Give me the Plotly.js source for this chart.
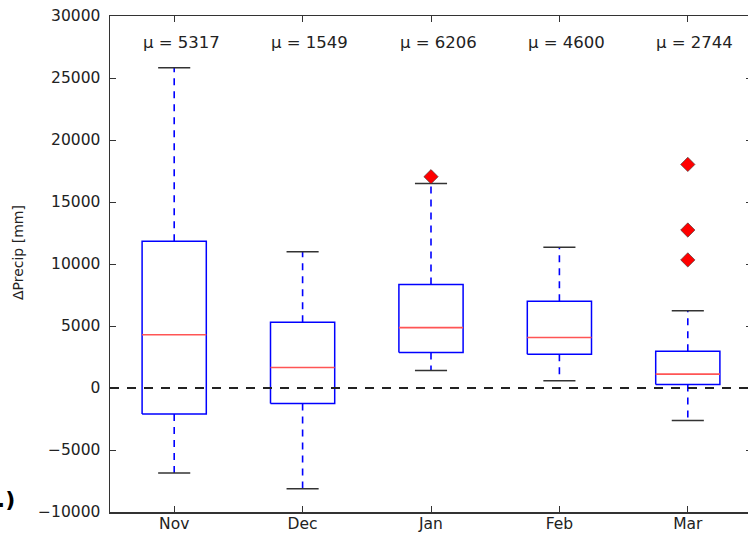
<!DOCTYPE html>
<html>
<head>
<meta charset="utf-8">
<script src="https://cdn.plot.ly/plotly-3.0.1.min.js"></script>
<style>
html,body{margin:0;padding:0;overflow:hidden;background:#fff;width:748px;height:535px;}
#chart{width:760px;height:535px;}
</style>
</head>
<body>
<div id="chart"></div>
<script>
// ---- data ----
var categories = ['Nov', 'Dec', 'Jan', 'Feb', 'Mar'];
var positions = [1, 2, 3, 4, 5];
var q1 = [-2100, -1250, 2860, 2730, 280];
var medians = [4290, 1650, 4870, 4070, 1120];
var q3 = [11830, 5310, 8340, 7000, 2970];
var lowCaps = [-6860, -8120, 1410, 580, -2620];
var highCaps = [25820, 10990, 16500, 11350, 6220];
var means = [5317, 1549, 6206, 4600, 2744];
var outliers = [[], [], [17040], [], [18030, 12740, 10330]];
var yTickVals = [-10000, -5000, 0, 5000, 10000, 15000, 20000, 25000, 30000];
var yTickText = ['\u221210000', '\u22125000', '0', '5000', '10000', '15000', '20000', '25000', '30000'];

// ---- build traces ----
var boxW = 0.25, capW = 0.125;
var bx = [], by = [], mx = [], my = [], wx = [], wy = [], cx = [], cy = [], ox = [], oy = [];
positions.forEach(function (p, i) {
  bx.push(p - boxW, p + boxW, p + boxW, p - boxW, p - boxW, null);
  by.push(q1[i], q1[i], q3[i], q3[i], q1[i], null);
  mx.push(p - boxW, p + boxW, null);
  my.push(medians[i], medians[i], null);
  wx.push(p, p, null, p, p, null);
  wy.push(q3[i], highCaps[i], null, q1[i], lowCaps[i], null);
  cx.push(p - capW, p + capW, null, p - capW, p + capW, null);
  cy.push(highCaps[i], highCaps[i], null, lowCaps[i], lowCaps[i], null);
  outliers[i].forEach(function (v) { ox.push(p); oy.push(v); });
});

var traces = [
  {x: wx, y: wy, type: 'scatter', mode: 'lines', hoverinfo: 'skip',
   line: {color: '#0000ff', width: 1.6, dash: '7px,6px'}},
  {x: cx, y: cy, type: 'scatter', mode: 'lines', hoverinfo: 'skip',
   line: {color: '#333', width: 1.5}},
  {x: bx, y: by, type: 'scatter', mode: 'lines', hoverinfo: 'skip',
   line: {color: '#0000ff', width: 1.5}},
  {x: mx, y: my, type: 'scatter', mode: 'lines', hoverinfo: 'skip',
   line: {color: '#ff5555', width: 1.6}},
  {x: ox, y: oy, type: 'scatter', mode: 'markers', hoverinfo: 'y',
   marker: {symbol: 'diamond', size: 11, color: '#ff0000', line: {color: '#333', width: 0.6}}}
];

var font = {family: 'DejaVu Sans, sans-serif', size: 15.5, color: '#222'};
var meanFont = {family: 'DejaVu Sans, sans-serif', size: 16.5, color: '#222'};

var annotations = positions.map(function (p, i) {
  return {x: p, y: 27850, xref: 'x', yref: 'y', xshift: 7, text: '\u03bc = ' + means[i],
          showarrow: false, xanchor: 'center', yanchor: 'middle', font: meanFont};
});
annotations.push({xref: 'paper', yref: 'paper', x: -0.145, y: 0.026, xanchor: 'right', yanchor: 'middle',
  text: '<b>a.)</b>', showarrow: false, font: {family: 'DejaVu Sans, sans-serif', size: 22, color: '#000'}});
// y-axis label
annotations.push({xref: 'paper', yref: 'paper', x: -0.1433, y: 0.522, xanchor: 'center', yanchor: 'middle',
  textangle: -90, text: '\u0394Precip [mm]', showarrow: false,
  font: {family: 'DejaVu Sans, sans-serif', size: 14, color: '#222'}});

var layout = {
  width: 760, height: 535,
  margin: {l: 110, r: 8, t: 16, b: 23},
  paper_bgcolor: '#fff', plot_bgcolor: '#fff',
  showlegend: false,
  font: font,
  xaxis: {
    range: [0.5, 5.5], tickvals: positions, ticktext: categories,
    showgrid: false, zeroline: false, showline: true, mirror: 'ticks',
    linecolor: '#333', linewidth: 1.5, ticks: 'inside', ticklen: 6, tickcolor: '#333',
    ticklabelstandoff: -3, tickfont: font
  },
  yaxis: {
    range: [-10000, 30000], tickvals: yTickVals, ticktext: yTickText,
    showgrid: false, zeroline: false, showline: true, mirror: 'ticks',
    linecolor: '#333', linewidth: 1.5, ticks: 'inside', ticklen: 6, tickcolor: '#333',
    ticklabelstandoff: 5, tickfont: font
  },
  shapes: [{type: 'line', xref: 'paper', x0: 0, x1: 1, yref: 'y', y0: 0, y1: 0,
            line: {color: '#222', width: 2, dash: '9px,8px'}}],
  annotations: annotations
};

Plotly.newPlot('chart', traces, layout, {staticPlot: true, displayModeBar: false});
</script>
</body>
</html>
